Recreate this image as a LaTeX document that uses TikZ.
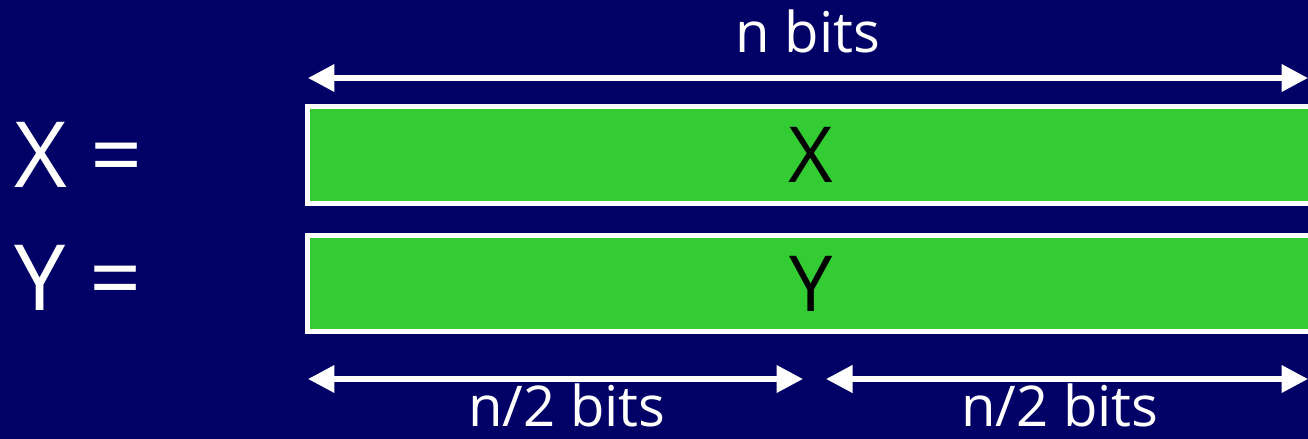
\documentclass[tikz,border=0pt]{standalone}
\usepackage{fontspec}
\setmainfont{Open Sans}
\usetikzlibrary{arrows.meta}
\definecolor{slidebg}{RGB}{0,0,102}
\definecolor{bitgreen}{RGB}{51,204,51}
\begin{document}
\begin{tikzpicture}[x=0.02cm, y=-0.02cm,
      bar/.style={draw=white, line width=0.1cm, fill=bitgreen, text=black,
                  minimum width=20.14cm, minimum height=1.93cm,
                  font=\fontsize{44}{48}\selectfont},
      dim/.style={white, line width=0.11cm,
                  {Triangle[length=0.53cm,width=0.53cm]}-{Triangle[length=0.53cm,width=0.53cm]}},
      lbl/.style={text=white, anchor=base, inner sep=0pt, font=\fontsize{32}{36}\selectfont},
      big/.style={text=white, anchor=base west, font=\fontsize{52}{60}\selectfont}]
    \useasboundingbox (0,0) rectangle (1308,439);
    \fill[slidebg] (0,0) rectangle (1308,439);
    % the two n-bit numbers
    \node[big] (xeq) at (8,187) {X =};
    \node[big] (yeq) at (8,310) {Y =};
    \node[bar] (xbar) at (811,155)   {X};
    \node[bar] (ybar) at (811,283.5) {Y};
    % widths
    \coordinate (nl)  at (308,78);
    \coordinate (nr)  at (1308,78);
    \coordinate (h1l) at (308,379);
    \coordinate (h1r) at (803,379);
    \coordinate (h2l) at (826,379);
    \coordinate (h2r) at (1308,379);
    \draw[dim] (nl)  -- (nr);
    \draw[dim] (h1l) -- (h1r);
    \draw[dim] (h2l) -- (h2r);
    \node[lbl] (nbits)  at (808,53)  {n bits};
    \node[lbl] (hbits1) at (567,426) {n/2 bits};
    \node[lbl] (hbits2) at (1060,426) {n/2 bits};
  \end{tikzpicture}
\end{document}
